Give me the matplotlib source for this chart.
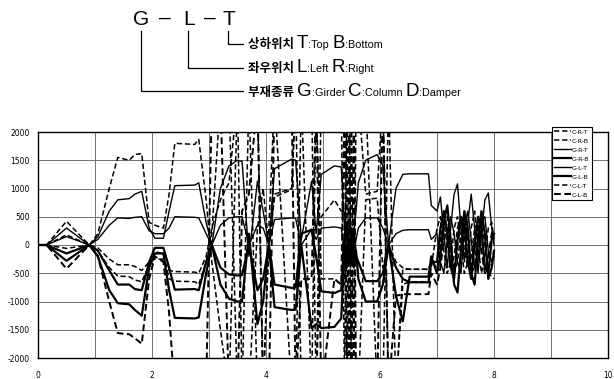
import matplotlib
matplotlib.use('Agg')
import matplotlib.pyplot as plt
from matplotlib.lines import Line2D

plt.rcParams['font.family'] = ['DejaVu Sans', 'Noto Sans CJK KR']

# ---------------- data ----------------
t = [0.00, 0.15, 0.50, 0.90,
     1.05, 1.25, 1.40, 1.60, 1.70, 1.82,
     1.95, 2.05, 2.20, 2.30, 2.40, 2.75, 2.82,
     2.95, 3.05, 3.20, 3.35, 3.50, 3.58, 3.70, 3.85, 3.95,
     4.05, 4.15, 4.45, 4.52, 4.62, 4.80, 4.88, 4.97, 5.20, 5.32,
     5.38, 5.42, 5.46, 5.50, 5.54, 5.58, 5.62,
     5.75, 5.95, 6.05, 6.15, 6.28, 6.40, 6.52, 6.85, 6.90,
     7.00, 7.06, 7.12, 7.18, 7.24, 7.30, 7.36, 7.42, 7.48, 7.54, 7.60,
     7.66, 7.72, 7.78, 7.84, 7.90, 7.96, 8.00]

c_r_t = [0, 0, 420, 0,
         200, 1000, 1550, 1500, 1600, 1620,
         400, 350, 300, 900, 1800, 1780, 1870,
         800, -300, -1500, -2600, 2600, 2600, 2600, -2600, -2600,
         0, 900, 1000, 2600, 2600, -2600, -2600, 2600, 2600, 2600,
         -2600, 2600, -2600, 2600, -2600, 2600, 2600,
         900, 950, 2600, -2600, -2600, -430, -430, -430, -300,
         -300, 100, 400, 0, -400, -200, 300, 500, -100, -400, -200,
         300, 400, -100, -400, -500, -550, -600]

c_r_b = [0, 0, 180, 0,
         -50, -250, -350, -350, -380, -450,
         -300, -250, -250, -450, -470, -480, -500,
         -200, 300, 800, 1100, 2600, -2600, -2600, 300, 1000,
         0, 850, 980, 2600, -2600, -2600, 2600, -600, -600, -700,
         -700, 2600, 2600, -2600, -2600, -2600, -2600,
         800, 830, -400, 0, -300, -400, -430, -430, -300,
         -400, 0, 300, 500, 0, -500, -300, 200, 600, 100, -500,
         -400, 300, 500, 0, -400, -300, -100]

g_r_t = [0, 0, 300, 0,
         150, 600, 800, 820, 900, 950,
         300, 120, 120, 600, 1050, 1060, 1100,
         400, 0, 1000, 1400, 1500, 1480, -200, 1130, 600,
         0, 1350, 1520, 1500, 100, 1130, 200, 1250, 1400, 1380,
         300, -200, 400, -300, 200, 600, 1100,
         1500, 1600, 1400, 0, 1000, 1250, 1260, 1260, 700,
         600, 850, 200, -400, 300, 900, 1080, 300, -300, 400, 900,
         300, -500, 200, 800, 920, 300, 0]

g_r_b = [0, 0, -150, 0,
         -100, -450, -700, -700, -780, -800,
         -300, -50, -50, -400, -790, -780, -800,
         -300, 0, -400, -520, -540, -530, 0, -800, -600,
         0, -700, -760, -750, 200, 270, -200, -820, -850, -800,
         200, -400, 100, -300, 300, -200, -300,
         -640, -640, -500, 0, -400, -600, -660, -660, -300,
         -300, 300, 600, 200, -400, -600, 100, 500, 400, -300, -600,
         0, 500, 300, -400, -500, 100, 200]

g_l_t = [0, 0, 150, 0,
         100, 350, 480, 470, 490, 500,
         250, 200, 200, 300, 500, 490, 480,
         200, 0, 350, 480, 500, 500, 0, 350, 300,
         0, 450, 480, 470, 0, 280, 100, 300, 320, 300,
         -100, 300, -250, 200, -150, 100, 300,
         480, 480, 300, 0, 200, 260, 270, 270, 100,
         200, -300, -500, 100, 500, 200, -300, -500, 300, 600, 100,
         -400, -300, 400, 500, -100, -300, -200]

g_l_b = [0, 0, -280, 0,
         -200, -800, -1030, -1050, -1150, -1250,
         -400, -150, -150, -800, -1290, -1300, -1280,
         -500, 0, -700, -950, -1000, -1000, 200, -1400, -1000,
         0, -1100, -1150, -1140, 0, -1470, -1400, -1470, -1450, -1300,
         0, 400, -300, 300, -400, -100, -600,
         -1000, -1000, -700, 0, -900, -1350, -560, -560, -200,
         -500, -200, 400, 700, 100, -700, -840, -100, 600, 300, -500,
         -700, 100, 600, 200, -600, -400, -100]

c_l_t = [0, 0, -60, 0,
         -100, -400, -550, -560, -620, -650,
         -350, -120, -150, -600, -640, -650, -700,
         -300, 200, 2600, 2600, -2600, -2600, 2600, 2600, -2600,
         300, 2600, -2600, -2600, 2600, 2600, -2600, 500, 800, 600,
         600, -2600, -2600, 2600, 2600, 2600, 2600,
         2600, -2600, -2600, 2600, -2600, -700, -650, -650, -400,
         300, 500, -100, -500, -300, 300, 500, 0, -500, -300, 300,
         600, 0, -500, -200, 300, 400, 100]

c_l_b = [0, 0, -420, 0,
         -200, -1000, -1560, -1580, -1650, -1750,
         -600, -200, -300, -1200, -2600, -2600, -2600,
         -2600, 2600, 2600, -2600, -2600, 600, 900, 2600, -2600,
         -2600, 2600, 2600, -2600, -600, -600, 2600, -2600, -600, -700,
         2600, -2600, 2600, -2600, 2600, -2600, -2600,
         -2600, -2600, 2600, -2600, -900, -870, -870, -870, -500,
         -700, -400, 100, 300, -200, -500, 0, 400, 200, -300, -400,
         100, 300, -100, -500, -200, 200, 300]

series_names = ['C-R-T', 'C-R-B', 'G-R-T', 'G-R-B', 'G-L-T', 'G-L-B', 'C-L-T', 'C-L-B']
series_vals = [c_r_t, c_r_b, g_r_t, g_r_b, g_l_t, g_l_b, c_l_t, c_l_b]

x_ticks = [0, 2, 4, 6, 8, 10]
y_ticks = [-2000, -1500, -1000, -500, 0, 500, 1000, 1500, 2000]

# ---------------- styles ----------------
dash = (0, (3.5, 1.8))
styles = {
    'C-R-T': dict(linestyle=dash, linewidth=1.1),
    'C-R-B': dict(linestyle=dash, linewidth=1.1),
    'G-R-T': dict(linestyle='-', linewidth=1.0),
    'G-R-B': dict(linestyle='-', linewidth=1.6),
    'G-L-T': dict(linestyle='-', linewidth=1.0),
    'G-L-B': dict(linestyle='-', linewidth=1.6),
    'C-L-T': dict(linestyle=dash, linewidth=1.1),
    'C-L-B': dict(linestyle=dash, linewidth=1.4),
}

W, H = 614, 379
fig = plt.figure(figsize=(W / 100, H / 100), dpi=100)
fig.patch.set_facecolor('white')

ax = fig.add_axes([38 / W, 1 - 358 / H, (608 - 38) / W, (358 - 132) / H])
for name, vals in zip(series_names, series_vals):
    ax.plot(t, vals, color='black', label=name, **styles[name])

ax.set_xlim(0, 10)
ax.set_ylim(-2000, 2000)
ax.set_xticks(x_ticks)
ax.set_xticks(range(0, 11), minor=True)
ax.set_yticks(y_ticks)
ax.set_xticklabels([str(v) for v in x_ticks])
ax.set_yticklabels([str(v) for v in y_ticks])
ax.tick_params(axis='both', which='both', length=0, labelsize=5.5, pad=9)
ax.tick_params(axis='y', pad=6)
ax.grid(True, which='both', axis='x', color='#707070', linewidth=0.7)
ax.grid(True, which='major', axis='y', color='#707070', linewidth=0.7)
ax.set_axisbelow(True)
for s in ax.spines.values():
    s.set_color('black')
    s.set_linewidth(1.0)

leg = fig.legend(loc='upper left', bbox_to_anchor=(552 / W, 1 - 127 / H),
                 bbox_transform=fig.transFigure, fontsize=4.6, frameon=True,
                 fancybox=False, edgecolor='black', framealpha=1,
                 borderpad=0.35, labelspacing=0.55, handlelength=2.6,
                 handletextpad=0.2, borderaxespad=0)
leg.get_frame().set_linewidth(0.8)

# ---------------- top annotation ----------------
def fx(x):
    return x / W

def fy(y):
    return 1 - y / H

big = dict(fontsize=15, family=['Liberation Sans', 'DejaVu Sans'], va='baseline', ha='center')
fig.text(fx(141), fy(25), 'G', **big)
fig.text(fx(165), fy(24), '–', **big)
fig.text(fx(189), fy(25), 'L', **big)
fig.text(fx(210), fy(24), '–', **big)
fig.text(fx(229), fy(25), 'T', **big)

for xv, yb in [(141, 91), (188, 68), (228, 44)]:
    fig.add_artist(Line2D([fx(xv), fx(xv), fx(243)], [fy(31), fy(yb), fy(yb)],
                          color='black', linewidth=0.9))

renderer = fig.canvas.get_renderer()
KR = ['Noto Sans CJK KR', 'DejaVu Sans']
LAT = ['Liberation Sans', 'DejaVu Sans']

def seq_text(x0, y_base, pieces):
    x = x0
    for s, size, fam, wt in pieces:
        tx = fig.text(fx(x), fy(y_base), s, fontsize=size, family=fam,
                      weight=wt, va='baseline', ha='left')
        bb = tx.get_window_extent(renderer)
        x += bb.width

KS, BS, SS = 9.0, 13.5, 7.8
rows = [
    (48, [('상하위치 ', KS, KR, 'bold'), ('T', BS, LAT, 'normal'), (':Top ', SS, LAT, 'normal'),
          ('B', BS, LAT, 'normal'), (':Bottom', SS, LAT, 'normal')]),
    (72, [('좌우위치 ', KS, KR, 'bold'), ('L', BS, LAT, 'normal'), (':Left ', SS, LAT, 'normal'),
          ('R', BS, LAT, 'normal'), (':Right', SS, LAT, 'normal')]),
    (96, [('부재종류 ', KS, KR, 'bold'), ('G', BS, LAT, 'normal'), (':Girder ', SS, LAT, 'normal'),
          ('C', BS, LAT, 'normal'), (':Column ', SS, LAT, 'normal'),
          ('D', BS, LAT, 'normal'), (':Damper', SS, LAT, 'normal')]),
]
for yb, pieces in rows:
    seq_text(248, yb, pieces)

fig.savefig('out.png', dpi=100, facecolor='white')
